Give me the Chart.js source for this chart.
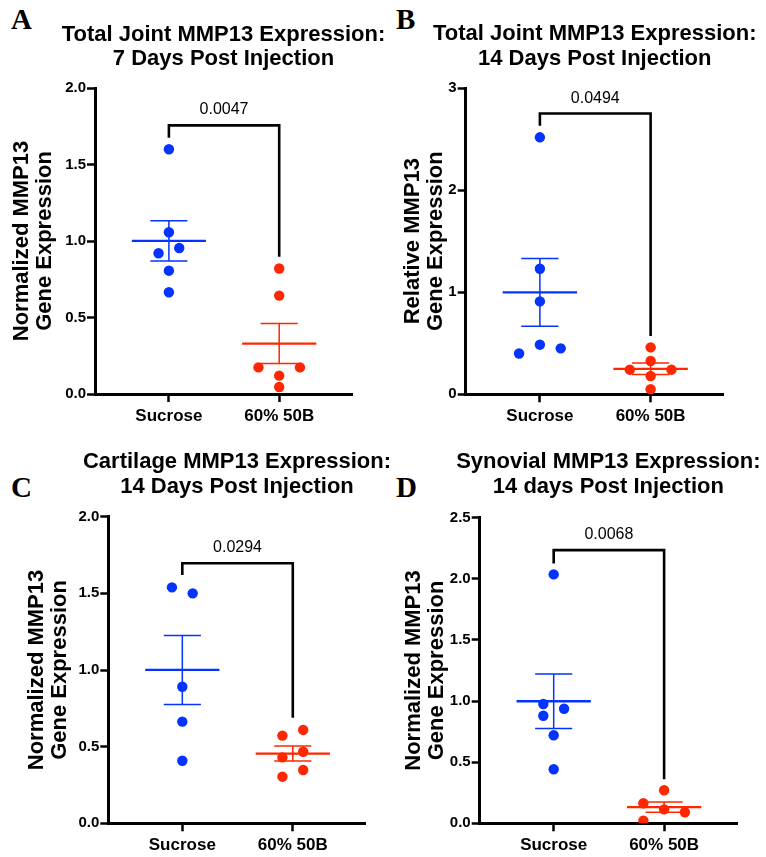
<!DOCTYPE html>
<html><head><meta charset="utf-8">
<script src="https://cdn.jsdelivr.net/npm/chart.js@4.4.1/dist/chart.umd.min.js"></script>
<style>
html,body{margin:0;padding:0;background:#fff;width:766px;height:857px;overflow:hidden}
body{position:relative}
canvas{position:absolute}
.letter{position:absolute;font-family:"Liberation Serif","Times New Roman",serif;font-weight:bold;font-size:29px;line-height:29px;color:#000}
</style></head><body>
<div class="letter" style="left:11px;top:5px">A</div>
<div class="letter" style="left:396px;top:5px">B</div>
<div class="letter" style="left:11px;top:473px">C</div>
<div class="letter" style="left:396px;top:473px">D</div>
<canvas id="cA" width="400" height="440" style="left:0;top:0"></canvas>
<canvas id="cB" width="400" height="440" style="left:383px;top:0"></canvas>
<canvas id="cC" width="400" height="440" style="left:0;top:420px"></canvas>
<canvas id="cD" width="400" height="440" style="left:383px;top:420px"></canvas>
<script>
// ---- data ----
const categories = ["Sucrose", "60% 50B"];

const titleA = ["Total Joint MMP13 Expression:", "7 Days Post Injection"];
const titleB = ["Total Joint MMP13 Expression:", "14 Days Post Injection"];
const titleC = ["Cartilage MMP13 Expression:", "14 Days Post Injection"];
const titleD = ["Synovial MMP13 Expression:", "14 days Post Injection"];

const ylabelA = ["Normalized MMP13", "Gene Expression"];
const ylabelB = ["Relative MMP13", "Gene Expression"];
const ylabelC = ["Normalized MMP13", "Gene Expression"];
const ylabelD = ["Normalized MMP13", "Gene Expression"];

const yticksA = [0, 0.5, 1.0, 1.5, 2.0];
const yticksB = [0, 1, 2, 3];
const yticksC = [0, 0.5, 1.0, 1.5, 2.0];
const yticksD = [0, 0.5, 1.0, 1.5, 2.0, 2.5];

const sucroseA = [1.60, 1.057, 0.954, 0.92, 0.806, 0.665];
const treatedA = [0.82, 0.643, 0.174, 0.174, 0.12, 0.046];
const sucroseB = [2.517, 1.23, 0.91, 0.486, 0.45, 0.40];
const treatedB = [0.46, 0.326, 0.241, 0.241, 0.179, 0.049];
const sucroseC = [1.539, 1.50, 0.891, 0.663, 0.408];
const treatedC = [0.609, 0.572, 0.467, 0.43, 0.348, 0.304];
const sucroseD = [2.036, 0.976, 0.937, 0.88, 0.72, 0.442];
const treatedD = [0.27, 0.164, 0.114, 0.09, 0.021];

// swarm column index of each point
const swarmSucA = [0, 0, 1, -1, 0, 0];
const swarmTrtA = [0, 0, -2, 2, 0, 0];
const swarmSucB = [0, 0, 0, 0, 2, -2];
const swarmTrtB = [0, 0, -2, 2, 0, 0];
const swarmSucC = [-1, 1, 0, 0, 0];
const swarmTrtC = [1, -1, 1, -1, 1, -1];
const swarmSucD = [0, -1, 1, -1, 0, 0];
const swarmTrtD = [0, -2, 0, 2, -2];

const pValues = ["0.0047", "0.0494", "0.0294", "0.0068"];
// bracket: [left end, top, right end] in axis units
const bracketA = [1.675, 1.756, 0.897];
const bracketB = [2.63, 2.75, 0.57];
const bracketC = [1.62, 1.696, 0.689];
const bracketD = [2.126, 2.235, 0.36];

// ---- styling ----
const BLUE = "#0433FF", RED = "#FF2600";
const FONT = 'Arial, "Liberation Sans", Helvetica, sans-serif';
const COL = 0.094, MEANHALF = 0.336, CAPHALF = 0.168;
const W = 400, H = 440;

function mean(a){return a.reduce((s,v)=>s+v,0)/a.length;}
function sem(a){const m=mean(a);const v=a.reduce((s,x)=>s+(x-m)*(x-m),0)/(a.length-1);return Math.sqrt(v/a.length);}

const statsPlugin = {
  id:'stats',
  beforeDatasetsDraw(chart){
    const {ctx, scales:{x,y}} = chart;
    chart.data.datasets.forEach((ds,i)=>{
      const g = i+1, vals = ds.raw, m = mean(vals), s = sem(vals);
      ctx.save();
      ctx.strokeStyle = ds.backgroundColor;
      ctx.lineWidth = 1.5;
      ctx.beginPath();
      ctx.moveTo(x.getPixelForValue(g), y.getPixelForValue(m-s));
      ctx.lineTo(x.getPixelForValue(g), y.getPixelForValue(m+s));
      [m-s, m+s].forEach(v=>{
        ctx.moveTo(x.getPixelForValue(g-CAPHALF), y.getPixelForValue(v));
        ctx.lineTo(x.getPixelForValue(g+CAPHALF), y.getPixelForValue(v));
      });
      ctx.stroke();
      ctx.lineWidth = 2.3;
      ctx.beginPath();
      ctx.moveTo(x.getPixelForValue(g-MEANHALF), y.getPixelForValue(m));
      ctx.lineTo(x.getPixelForValue(g+MEANHALF), y.getPixelForValue(m));
      ctx.stroke();
      ctx.restore();
    });
  },
  afterDatasetsDraw(chart, args, opts){
    const {ctx, scales:{x,y}} = chart;
    const b = opts.bracket;
    ctx.save();
    ctx.strokeStyle = '#000'; ctx.lineWidth = 2.6; ctx.lineJoin='miter';
    ctx.beginPath();
    ctx.moveTo(x.getPixelForValue(1), y.getPixelForValue(b[0]));
    ctx.lineTo(x.getPixelForValue(1), y.getPixelForValue(b[1]));
    ctx.lineTo(x.getPixelForValue(2), y.getPixelForValue(b[1]));
    ctx.lineTo(x.getPixelForValue(2), y.getPixelForValue(b[2]));
    ctx.stroke();
    ctx.fillStyle = '#000';
    ctx.font = '16px ' + FONT;
    ctx.textAlign = 'center'; ctx.textBaseline = 'alphabetic';
    ctx.fillText(opts.p, x.getPixelForValue(1.5), y.getPixelForValue(b[1]) - 11);
    ctx.restore();
  },
  afterDraw(chart, args, opts){
    const {ctx, chartArea} = chart;
    ctx.save();
    ctx.fillStyle = '#000';
    ctx.font = 'bold 22px ' + FONT;
    ctx.textAlign = 'center'; ctx.textBaseline = 'alphabetic';
    const cx = (chartArea.left + chartArea.right)/2;
    opts.title.forEach((t,i)=>ctx.fillText(t, cx, opts.titleBase[i]));
    ctx.restore();
  }
};

function makePanel(id, p){
  const ds = (vals, cols, g, color) => ({
    raw: vals,
    data: vals.map((v,i)=>({x: g + cols[i]*COL, y: v})),
    backgroundColor: color, borderWidth: 0, pointRadius: 5.2, pointHoverRadius: 5.2
  });
  new Chart(document.getElementById(id), {
    type: 'scatter',
    data: {datasets: [ds(p.suc, p.sucCol, 1, BLUE), ds(p.trt, p.trtCol, 2, RED)]},
    options: {
      responsive: false, animation: false, devicePixelRatio: 1,
      layout: {padding: {left: 0, top: p.area[2], right: W - p.area[1], bottom: 0}},
      plugins: {
        legend: {display: false}, tooltip: {enabled: false}, title: {display: false},
        stats: {bracket: p.bracket, p: p.p, title: p.title, titleBase: p.titleBase}
      },
      scales: {
        x: {
          type: 'linear', min: 0.33, max: 2.66,
          afterBuildTicks: s => { s.ticks = [{value: 1}, {value: 2}]; },
          afterFit: s => { s.height = H - p.area[3]; },
          ticks: {callback: v => categories[v-1], color: '#000', padding: 4, autoSkip: false, maxRotation: 0,
                  font: {family: FONT, size: 17, weight: 'bold'}},
          grid: {drawOnChartArea: false, tickLength: 8, tickWidth: 2.5, tickColor: '#000', color: '#000'},
          border: {display: true, color: '#000', width: 3}
        },
        y: {
          type: 'linear', min: 0, max: p.yticks[p.yticks.length-1],
          afterBuildTicks: s => { s.ticks = p.yticks.map(v => ({value: v})); },
          afterFit: s => { s.width = p.area[0]; },
          ticks: {callback: v => p.dec ? v.toFixed(1) : String(v), color: '#000', padding: 1,
                  font: {family: FONT, size: 15, weight: 'bold'}},
          grid: {drawOnChartArea: false, tickLength: 8, tickWidth: 2.5, tickColor: '#000', color: '#000'},
          border: {display: true, color: '#000', width: 3},
          title: {display: true, text: p.ylabel, color: '#000', align: 'center',
                  font: {family: FONT, size: 22, weight: 'bold', lineHeight: 1.05},
                  padding: {top: p.ypad, bottom: 0}}
        }
      }
    },
    plugins: [statsPlugin]
  });
}

makePanel('cA', {suc: sucroseA, trt: treatedA, sucCol: swarmSucA, trtCol: swarmTrtA, yticks: yticksA, dec: true,
  ylabel: ylabelA, ypad: 10.5, area: [95, 352, 88, 394], bracket: bracketA, p: pValues[0], title: titleA, titleBase: [40.7, 65.3]});
makePanel('cB', {suc: sucroseB, trt: treatedB, sucCol: swarmSucB, trtCol: swarmTrtB, yticks: yticksB, dec: false,
  ylabel: ylabelB, ypad: 18.5, area: [82.7, 340.7, 88, 394.3], bracket: bracketB, p: pValues[1], title: titleB, titleBase: [40.3, 65]});
makePanel('cC', {suc: sucroseC, trt: treatedC, sucCol: swarmSucC, trtCol: swarmTrtC, yticks: yticksC, dec: true,
  ylabel: ylabelC, ypad: 25.2, area: [108.3, 365.7, 96.7, 403.3], bracket: bracketC, p: pValues[2], title: titleC, titleBase: [47.7, 73.3]});
makePanel('cD', {suc: sucroseD, trt: treatedD, sucCol: swarmSucD, trtCol: swarmTrtD, yticks: yticksD, dec: true,
  ylabel: ylabelD, ypad: 19.2, area: [96.7, 354, 97.7, 403.3], bracket: bracketD, p: pValues[3], title: titleD, titleBase: [47.7, 72.7]});
</script>
</body></html>
